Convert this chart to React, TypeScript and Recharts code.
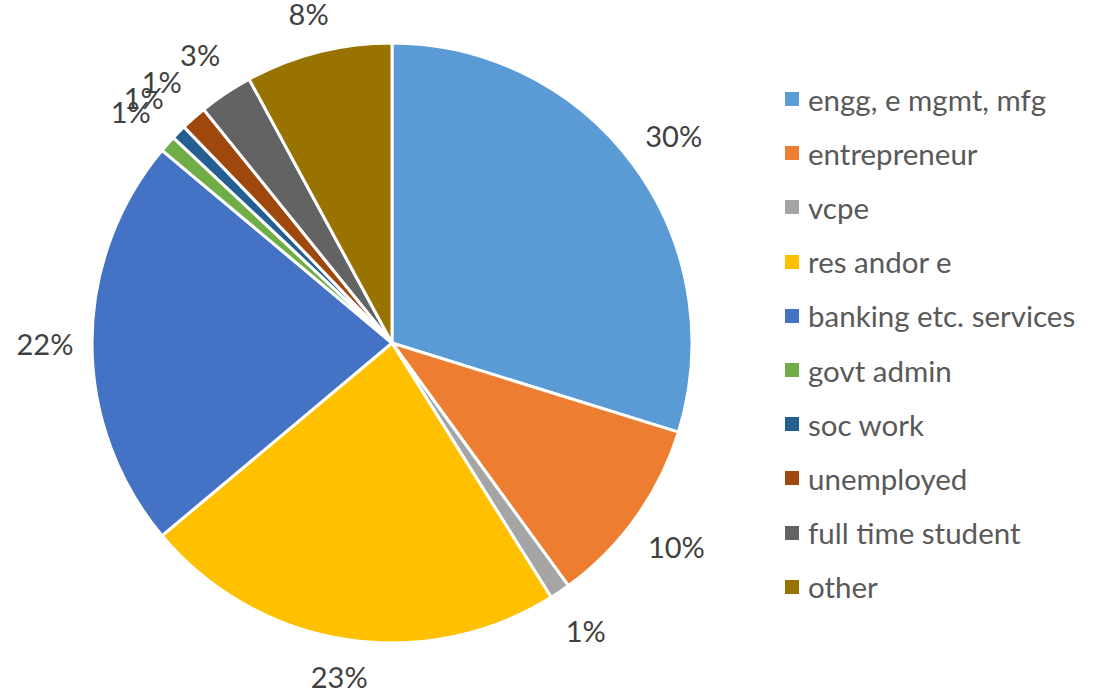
import { Cell, Legend, Pie, PieChart } from 'recharts';

const categories = [
  'engg, e mgmt, mfg',
  'entrepreneur',
  'vcpe',
  'res andor e',
  'banking etc. services',
  'govt admin',
  'soc work',
  'unemployed',
  'full time student',
  'other',
];

const shares = [29.8, 10.2, 1.1, 22.8, 22.2, 0.9, 0.8, 1.4, 2.9, 7.9];

const colors = [
  '#5B9BD5',
  '#ED7D31',
  '#A5A5A5',
  '#FFC000',
  '#4472C4',
  '#70AD47',
  '#255E91',
  '#9E480E',
  '#636363',
  '#997300',
];

const FONT = 'Lato, "Open Sans", sans-serif';
const RAD = Math.PI / 180;

const data = categories.map((name, i) => ({ name, value: shares[i] }));

// labels sit outside the pie like excel's "outside end": box kept a fixed gap from the edge
function renderLabel(props: any) {
  const { cx, cy, midAngle, outerRadius, percent } = props;
  const c = Math.cos(-midAngle * RAD);
  const s = Math.sin(-midAngle * RAD);
  const r = outerRadius + 19 + Math.abs(c) * 28 + Math.abs(s) * 14;
  return (
    <text
      x={cx + r * c}
      y={cy + r * s}
      fill="#404040"
      fontSize={29}
      fontFamily={FONT}
      textAnchor="middle"
      dominantBaseline="central"
    >
      {`${Math.round(percent * 100)}%`}
    </text>
  );
}

function LegendList() {
  return (
    <div style={{ fontFamily: FONT, fontSize: 29.5, color: '#595959' }}>
      {categories.map((name, i) => (
        <div key={name} style={{ display: 'flex', alignItems: 'center', height: 54.2, whiteSpace: 'nowrap' }}>
          <span style={{ width: 14, height: 14, background: colors[i], marginRight: 9, flex: 'none' }} />
          <span>{name}</span>
        </div>
      ))}
    </div>
  );
}

export default function App() {
  return (
    <div style={{ position: 'absolute', left: 0, top: 0, width: 1109, height: 691, background: '#fff' }}>
      <PieChart width={1109} height={691} margin={{ top: 0, right: 0, bottom: 0, left: 0 }}>
        <Pie
          data={data}
          dataKey="value"
          nameKey="name"
          cx={392}
          cy={343}
          outerRadius={300}
          startAngle={90}
          endAngle={-270}
          stroke="#fff"
          strokeWidth={3}
          label={renderLabel}
          labelLine={false}
          isAnimationActive={false}
        >
          {data.map((d, i) => (
            <Cell key={d.name} fill={colors[i]} />
          ))}
        </Pie>
        <Legend
          layout="vertical"
          verticalAlign="top"
          align="right"
          content={() => <LegendList />}
          wrapperStyle={{ left: 785, top: 72, width: 320 }}
        />
      </PieChart>
    </div>
  );
}
